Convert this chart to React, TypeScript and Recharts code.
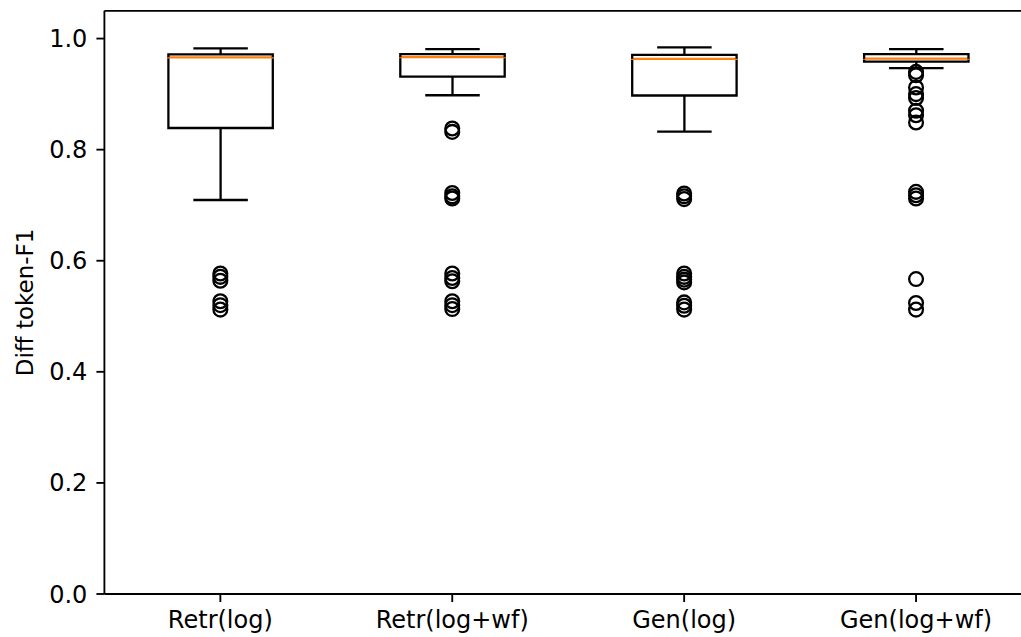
import React from 'react';
import { ComposedChart, Bar, Scatter, XAxis, YAxis, ReferenceLine } from 'recharts';

// ---- data ----
const categories = ['Retr(log)', 'Retr(log+wf)', 'Gen(log)', 'Gen(log+wf)'];
const whiskerLow = [0.7094, 0.898, 0.8326, 0.9467];
const q1 = [0.839, 0.9316, 0.8975, 0.9586];
const median = [0.9663, 0.9665, 0.9635, 0.9638];
const q3 = [0.9717, 0.972, 0.9706, 0.972];
const whiskerHigh = [0.9825, 0.981, 0.984, 0.981];

const outliersRetrLog = [0.577, 0.571, 0.564, 0.527, 0.52, 0.512];
const outliersRetrLogWf = [0.838, 0.832, 0.722, 0.716, 0.712, 0.577, 0.569, 0.563, 0.527, 0.52, 0.513];
const outliersGenLog = [0.721, 0.716, 0.711, 0.577, 0.571, 0.566, 0.561, 0.525, 0.519, 0.512];
const outliersGenLogWf = [0.94, 0.934, 0.912, 0.9, 0.893, 0.87, 0.862, 0.849, 0.724, 0.718, 0.712, 0.567, 0.524, 0.512];
const outlierGroups = [outliersRetrLog, outliersRetrLogWf, outliersGenLog, outliersGenLogWf];

const yTicks = [0, 0.2, 0.4, 0.6, 0.8, 1.0];

// ---- tables built for the library ----
const boxRows = categories.map((name, i) => ({
  name,
  base: whiskerLow[i],
  lowWhisker: q1[i] - whiskerLow[i],
  boxLower: median[i] - q1[i],
  boxUpper: q3[i] - median[i],
  highWhisker: whiskerHigh[i] - q3[i],
}));

const outlierRows = categories.flatMap((name, i) =>
  outlierGroups[i].map((value) => ({ name, value }))
);

// ---- styles ----
const LW = 2.3;
const ORANGE = '#ff7f0e';
const FONT = 'DejaVu Sans, Verdana, sans-serif';
const FS = 24;
const LABEL_FS = 23;

const Empty = () => <g />;

const LowWhiskerShape = (p: any) => {
  const { x, y, width, height } = p;
  const cx = x + width / 2;
  const half = width / 4;
  return (
    <g>
      <line x1={cx} x2={cx} y1={y} y2={y + height} stroke="#000" strokeWidth={LW} />
      <line x1={cx - half} x2={cx + half} y1={y + height} y2={y + height} stroke="#000" strokeWidth={LW} strokeLinecap="square" />
    </g>
  );
};

const HighWhiskerShape = (p: any) => {
  const { x, y, width, height } = p;
  const cx = x + width / 2;
  const half = width / 4;
  return (
    <g>
      <line x1={cx} x2={cx} y1={y} y2={y + height} stroke="#000" strokeWidth={LW} />
      <line x1={cx - half} x2={cx + half} y1={y} y2={y} stroke="#000" strokeWidth={LW} strokeLinecap="square" />
    </g>
  );
};

const BoxLowerShape = (p: any) => {
  const { x, y, width, height } = p;
  return (
    <g>
      <path
        d={`M${x},${y} L${x},${y + height} L${x + width},${y + height} L${x + width},${y}`}
        fill="none"
        stroke="#000"
        strokeWidth={LW}
      />
      <line x1={x - LW / 2} x2={x + width + LW / 2} y1={y} y2={y} stroke={ORANGE} strokeWidth={LW} />
    </g>
  );
};

const BoxUpperShape = (p: any) => {
  const { x, y, width, height } = p;
  return (
    <path
      d={`M${x},${y + height} L${x},${y} L${x + width},${y} L${x + width},${y + height}`}
      fill="none"
      stroke="#000"
      strokeWidth={LW}
    />
  );
};

const FlierShape = (p: any) => {
  const { cx, cy } = p;
  return <circle cx={cx} cy={cy} r={6.9} fill="none" stroke="#000" strokeWidth={LW} />;
};

const YLabel = (p: any) => {
  const vb = p.viewBox || { x: 0, y: 10.8, width: 104.4, height: 583.2 };
  const x = vb.x + 33.5;
  const y = vb.y + vb.height / 2;
  return (
    <text
      x={x}
      y={y}
      transform={`rotate(-90, ${x}, ${y})`}
      textAnchor="middle"
      fontFamily={FONT}
      fontSize={LABEL_FS}
      fill="#000"
    >
      Diff token-F1
    </text>
  );
};

export default function App() {
  return (
    <div
      style={{
        position: 'absolute',
        left: 0,
        top: 0,
        width: 1021,
        height: 637,
        overflow: 'hidden',
        background: '#fff',
      }}
    >
      <ComposedChart
        width={1032}
        height={637}
        data={boxRows}
        margin={{ top: 10.8, right: 0, bottom: 0, left: 0 }}
        barCategoryGap={0}
        barGap={0}
      >
        <XAxis
          dataKey="name"
          type="category"
          allowDuplicatedCategory={false}
          height={43}
          tickSize={8}
          tickMargin={9}
          axisLine={{ stroke: '#000', strokeWidth: 1.85 }}
          tickLine={{ stroke: '#000', strokeWidth: 1.85 }}
          tick={{ fill: '#000', fontSize: FS, fontFamily: FONT }}
          interval={0}
        />
        <YAxis
          type="number"
          domain={[0, 1.05]}
          ticks={yTicks}
          allowDataOverflow
          width={104.4}
          tickSize={8}
          tickMargin={9}
          tickFormatter={(v: number) => v.toFixed(1)}
          axisLine={{ stroke: '#000', strokeWidth: 1.85 }}
          tickLine={{ stroke: '#000', strokeWidth: 1.85 }}
          tick={{ fill: '#000', fontSize: FS, fontFamily: FONT }}
          label={{ content: YLabel }}
        />
        <ReferenceLine y={1.05} stroke="#000" strokeWidth={1.85} />
        <Bar dataKey="base" stackId="b" barSize={104.4} shape={Empty} isAnimationActive={false} />
        <Bar dataKey="lowWhisker" stackId="b" barSize={104.4} shape={LowWhiskerShape} isAnimationActive={false} />
        <Bar dataKey="boxLower" stackId="b" barSize={104.4} shape={BoxLowerShape} isAnimationActive={false} />
        <Bar dataKey="boxUpper" stackId="b" barSize={104.4} shape={BoxUpperShape} isAnimationActive={false} />
        <Bar dataKey="highWhisker" stackId="b" barSize={104.4} shape={HighWhiskerShape} isAnimationActive={false} />
        <Scatter data={outlierRows} dataKey="value" shape={FlierShape} isAnimationActive={false} />
      </ComposedChart>
    </div>
  );
}
